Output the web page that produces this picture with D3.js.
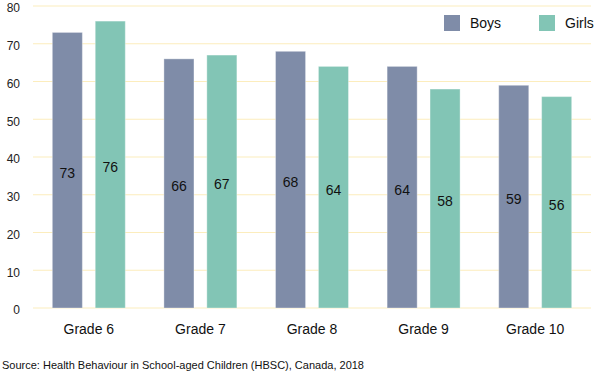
<!DOCTYPE html>
<html><head><meta charset="utf-8">
<script src="https://cdn.jsdelivr.net/npm/d3@7"></script>
<style>body{margin:0;background:#fff;}svg{display:block;font-family:"Liberation Sans",Arial,Helvetica,sans-serif;}</style>
</head><body>
<svg id="c" width="600" height="373"></svg>
<script>
const grades = ["Grade 6","Grade 7","Grade 8","Grade 9","Grade 10"];
const seriesNames = ["Boys","Girls"];
const boys = [73,66,68,64,59];
const girls = [76,67,64,58,56];
const yTicks = [0,10,20,30,40,50,60,70,80];
const colors = ["#7f8ca8","#82c5b5"];
const source = "Source: Health Behaviour in School-aged Children (HBSC), Canada, 2018";

(function(){
const svg = d3.select("#c");
const mLeft = 33, mRight = 591, mTop = 6, mBottom = 308;
const x = d3.scaleBand().domain(grades).range([mLeft,mRight]).paddingInner(0).paddingOuter(0);
const y = d3.scaleLinear().domain([0,80]).range([mBottom,mTop]);
const xs = d3.scaleBand().domain(seriesNames).range([0,x.bandwidth()]).paddingInner(0.3).paddingOuter(0.45);

svg.append("g").selectAll("line").data(yTicks).join("line")
  .attr("x1",mLeft).attr("x2",mRight)
  .attr("y1",d=>y(d)).attr("y2",d=>y(d))
  .attr("stroke","#fcedbd").attr("stroke-width",1.2);

const yAxis = d3.axisLeft(y).tickValues(yTicks).tickSize(0).tickPadding(0);
const ya = svg.append("g").attr("transform",`translate(20,2)`).call(yAxis);
ya.select(".domain").remove();
ya.selectAll("text").attr("font-size",12).attr("fill","#222").attr("font-family","Liberation Sans, Arial, sans-serif");

const data = grades.map((g,i)=>({g, vals:[boys[i],girls[i]]}));
const groups = svg.append("g").selectAll("g").data(data).join("g")
  .attr("transform",d=>`translate(${x(d.g)},0)`);
groups.selectAll("rect").data(d=>d.vals.map((v,j)=>({s:seriesNames[j],v,j}))).join("rect")
  .attr("x",d=>xs(d.s)).attr("width",xs.bandwidth())
  .attr("y",d=>y(d.v)).attr("height",d=>y(0)-y(d.v))
  .attr("fill",d=>colors[d.j])
  .attr("stroke","#ffffff").attr("stroke-opacity",0.35).attr("stroke-width",1);
groups.selectAll("text").data(d=>d.vals.map((v,j)=>({s:seriesNames[j],v,j}))).join("text")
  .attr("x",d=>xs(d.s)+xs.bandwidth()/2)
  .attr("y",d=>(y(d.v)+y(0))/2+7.5)
  .attr("text-anchor","middle").attr("font-size",14).attr("fill","#111")
  .text(d=>d.v);

const xAxis = d3.axisBottom(x).tickSize(0).tickPadding(0);
const xa = svg.append("g").attr("transform",`translate(0,${mBottom+16})`).call(xAxis);
xa.select(".domain").remove();
xa.selectAll("text").attr("font-size",14).attr("fill","#111").attr("font-family","Liberation Sans, Arial, sans-serif");

const legX = [444,539];
const leg = svg.append("g").selectAll("g").data(seriesNames).join("g")
  .attr("transform",(d,i)=>`translate(${legX[i]},15)`);
leg.append("rect").attr("width",16).attr("height",16).attr("fill",(d,i)=>colors[i]);
leg.append("text").attr("x",26).attr("y",13).attr("font-size",14).attr("fill","#111").text(d=>d);

svg.append("text").attr("x",2).attr("y",369).attr("font-size",11).attr("fill","#111").text(source);
})();
</script>
</body></html>
